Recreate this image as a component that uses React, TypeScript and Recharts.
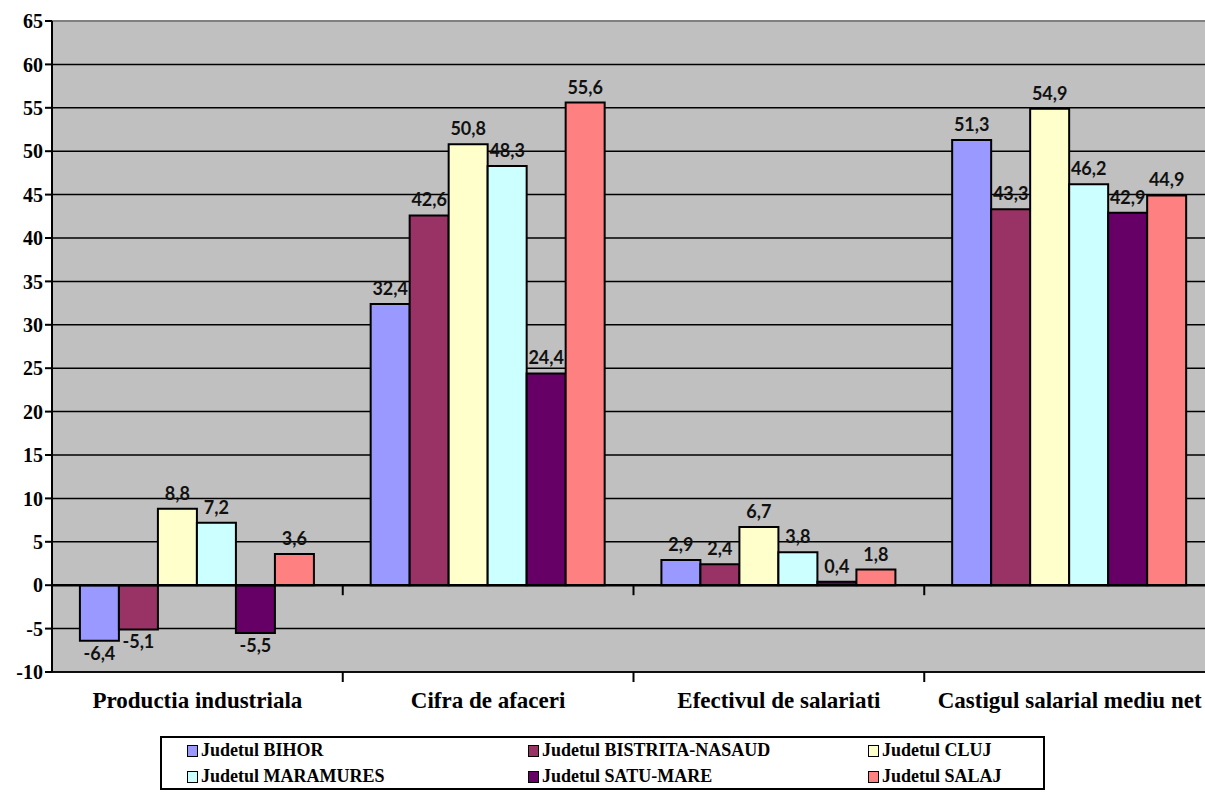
import { BarChart, Bar, XAxis, YAxis, CartesianGrid, ReferenceLine, LabelList } from 'recharts';

const categories = ['Productia industriala', 'Cifra de afaceri', 'Efectivul de salariati', 'Castigul salarial mediu net'];

const bihor = [-6.4, 32.4, 2.9, 51.3];
const bistrita = [-5.1, 42.6, 2.4, 43.3];
const cluj = [8.8, 50.8, 6.7, 54.9];
const maramures = [7.2, 48.3, 3.8, 46.2];
const satuMare = [-5.5, 24.4, 0.4, 42.9];
const salaj = [3.6, 55.6, 1.8, 44.9];

const yTicks = [-10, -5, 0, 5, 10, 15, 20, 25, 30, 35, 40, 45, 50, 55, 60, 65];

const series = [
    { key: 'bihor', name: 'Judetul BIHOR', values: bihor, color: '#9999FF' },
    { key: 'bistrita', name: 'Judetul BISTRITA-NASAUD', values: bistrita, color: '#993366' },
    { key: 'cluj', name: 'Judetul CLUJ', values: cluj, color: '#FFFFCC' },
    { key: 'maramures', name: 'Judetul MARAMURES', values: maramures, color: '#CCFFFF' },
    { key: 'satuMare', name: 'Judetul SATU-MARE', values: satuMare, color: '#660066' },
    { key: 'salaj', name: 'Judetul SALAJ', values: salaj, color: '#FF8080' },
];

const data = categories.map((cat, i) => {
    const row: Record<string, string | number> = { cat };
    series.forEach((s) => (row[s.key] = s.values[i]));
    return row;
});

const serif = "'Liberation Serif', 'Times New Roman', serif";
const fmt = (v: number) => String(v).replace('.', ',');

const BarLabel = (props: any) => {
    const { x, y, width, height, value } = props;
    const top = Math.min(y, y + height);
    const bottom = Math.max(y, y + height);
    const cx = x + width / 2;
    const neg = value < 0;
    return (
        <text
            x={cx}
            y={neg ? bottom + 19 : top - 9}
            textAnchor="middle"
            fontFamily="Lato, 'Open Sans', sans-serif"
            fontWeight={700}
            fontSize={18}
            fill="#111"
        >
            {fmt(value)}
        </text>
    );
};

// axis line with tick marks at category boundaries
const categoryLine = (strokeWidth: number) => (props: any) => {
    const { x1, y1, x2 } = props;
    const step = (x2 - x1) / categories.length;
    const marks = [];
    for (let i = 1; i < categories.length; i++) {
        const x = x1 + step * i;
        marks.push(<line key={i} x1={x} x2={x} y1={y1} y2={y1 + 10} stroke="#000" strokeWidth={2} />);
    }
    return (
        <g>
            <line x1={x1} x2={x2} y1={y1} y2={y1} stroke="#000" strokeWidth={strokeWidth} />
            {marks}
        </g>
    );
};

export default function App() {
    return (
        <div style={{ position: 'absolute', left: 0, top: 0, width: 1205, height: 792, overflow: 'hidden', background: '#fff' }}>
            <BarChart
                width={1215}
                height={792}
                data={data}
                margin={{ top: 21, right: 0, left: 0, bottom: 80 }}
                barCategoryGap="9.6%"
                barGap={0}
            >
                <CartesianGrid vertical={false} stroke="#000" strokeWidth={1.5} fill="#C0C0C0" strokeOpacity={1} />
                <XAxis
                    dataKey="cat"
                    axisLine={false}
                    tickLine={false}
                    height={40}
                    tickMargin={14}
                    tick={{ fontFamily: serif, fontWeight: 700, fontSize: 23, fill: '#000' }}
                />
                <YAxis
                    domain={[-10, 65]}
                    ticks={yTicks}
                    width={52}
                    interval={0}
                    axisLine={{ stroke: '#000', strokeWidth: 2 }}
                    tickLine={{ stroke: '#000', strokeWidth: 2 }}
                    tickSize={7}
                    tickMargin={2}
                    tick={{ fontFamily: serif, fontWeight: 700, fontSize: 20, fill: '#000' }}
                />
                <ReferenceLine y={65} stroke="#808080" strokeWidth={2} />
                <ReferenceLine y={-10} shape={categoryLine(1.5)} />
                {series.map((s) => (
                    <Bar key={s.key} dataKey={s.key} name={s.name} fill={s.color} stroke="#000" strokeWidth={2} isAnimationActive={false}>
                        <LabelList dataKey={s.key} content={BarLabel} />
                    </Bar>
                ))}
                <ReferenceLine y={0} shape={categoryLine(2.5)} />
            </BarChart>
            <div
                style={{
                    position: 'absolute',
                    left: 160,
                    top: 736,
                    width: 881,
                    height: 50,
                    border: '2px solid #000',
                    background: '#fff',
                    fontFamily: serif,
                    fontWeight: 700,
                    fontSize: 18,
                }}
            >
                {series.map((s, i) => (
                    <div
                        key={s.key}
                        style={{
                            position: 'absolute',
                            left: [25, 366, 706][i % 3],
                            top: i < 3 ? 2 : 28,
                            display: 'flex',
                            alignItems: 'center',
                            whiteSpace: 'nowrap',
                        }}
                    >
                        <span
                            style={{
                                display: 'inline-block',
                                width: 9,
                                height: 10,
                                background: s.color,
                                border: '1.5px solid #000',
                                marginRight: 3,
                            }}
                        />
                        {s.name}
                    </div>
                ))}
            </div>
        </div>
    );
}
